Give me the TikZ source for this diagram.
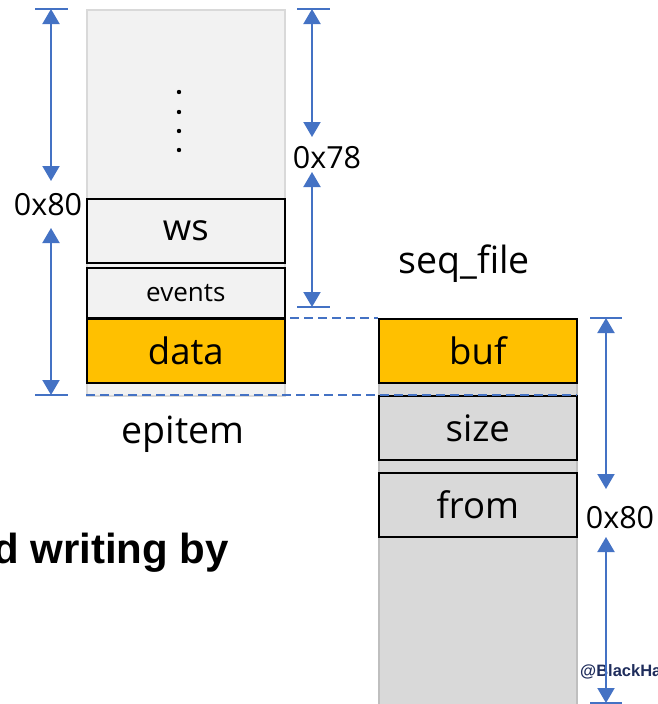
\documentclass[tikz,border=0pt]{standalone}
\usepackage{fontspec}
\setmainfont{Open Sans}
\newfontfamily\boldsans{Liberation Sans}
\usetikzlibrary{arrows.meta}
\definecolor{dimblue}{HTML}{4472C4}
\definecolor{lightcol}{HTML}{F2F2F2}
\definecolor{lightedge}{HTML}{D9D9D9}
\definecolor{midcol}{HTML}{D9D9D9}
\definecolor{midedge}{HTML}{BFBFBF}
\definecolor{gold}{HTML}{FFC000}
\definecolor{navy}{HTML}{1F2D5C}
\begin{document}
\begin{tikzpicture}[x=1pt,y=-1pt,
  colbox/.style={draw, line width=2pt, inner sep=0pt, anchor=north west, minimum width=198pt},
  fieldbox/.style={draw=black, line width=1.6pt, inner sep=0pt, anchor=north west, minimum width=198pt, minimum height=64pt, font=\fontsize{36.5}{40}\selectfont},
  dimtick/.style={draw=dimblue, line width=1.5pt},
  dimarrow/.style={draw=dimblue, line width=2pt, {Triangle[width=17pt,length=15pt]}-{Triangle[width=17pt,length=15pt]}},
  dimlabel/.style={inner sep=0pt, font=\fontsize{30.5}{34}\selectfont},
  biglabel/.style={inner sep=0pt, font=\fontsize{37.5}{40}\selectfont},
  guide/.style={draw=dimblue, line width=2pt, dash pattern=on 9pt off 5pt}]
\useasboundingbox (0,0) rectangle (658,704);
\clip (0,0) rectangle (658,704);

% epitem column
\node[colbox, draw=lightedge, fill=lightcol, minimum height=386pt] (epcol) at (86,9) {};
\node[fieldbox, fill=lightcol] (ws) at (86,198) {ws};
\node[fieldbox, fill=lightcol, minimum height=50pt, font=\fontsize{26}{28}\selectfont] (events) at (86,267) {events};
\node[fieldbox, fill=gold] (data) at (86,318) {data};
\foreach \yy [count=\i] in {92,112,131,150} \fill (179,\yy) circle (2.2pt);
\node[biglabel] (eplabel) at (183,434) {epitem};

% seq_file column
\node[colbox, draw=midedge, fill=midcol, minimum height=400pt] (seqcol) at (378,318) {};
\node[fieldbox, fill=gold] (buf) at (378,318) {buf};
\node[fieldbox, fill=midcol] (size) at (378,395) {size};
\node[fieldbox, fill=midcol] (from) at (378,472) {from};
\node[biglabel] (seqlabel) at (464,264) {seq\_file};

% guides
\coordinate (g1a) at (290,318);
\draw[guide] (g1a) -- (buf.north west);
\coordinate (g2a) at (86,395);
\coordinate (g2b) at (577,395);
\draw[guide] (g2a) -- (g2b);

% left dimension 0x80
\coordinate (lt1) at (35,9); \coordinate (lt2) at (68,9);
\coordinate (lb1) at (35,395); \coordinate (lb2) at (68,395);
\draw[dimtick] (lt1) -- (lt2);
\draw[dimtick] (lb1) -- (lb2);
\node[dimlabel] (l80) at (48,205) {0x80};
\coordinate (la1) at (51,9); \coordinate (la2) at (51,181);
\coordinate (la3) at (51,228); \coordinate (la4) at (51,395);
\draw[dimarrow] (la1) -- (la2);
\draw[dimarrow] (la3) -- (la4);

% right dimension 0x78
\coordinate (rt1) at (297,9); \coordinate (rt2) at (330,9);
\coordinate (rb1) at (297,307); \coordinate (rb2) at (330,307);
\draw[dimtick] (rt1) -- (rt2);
\draw[dimtick] (rb1) -- (rb2);
\node[dimlabel] (r78) at (327,158) {0x78};
\coordinate (ra1) at (312,9); \coordinate (ra2) at (312,137);
\coordinate (ra3) at (312,172); \coordinate (ra4) at (312,307);
\draw[dimarrow] (ra1) -- (ra2);
\draw[dimarrow] (ra3) -- (ra4);

% watermark
\node[inner sep=0pt, anchor=west, text=navy, font=\boldsans\bfseries\fontsize{16.5}{18}\selectfont] (wm) at (580,672) {@BlackHa};

% seq_file dimension 0x80
\coordinate (st1) at (590,318); \coordinate (st2) at (622,318);
\coordinate (sb1) at (590,703); \coordinate (sb2) at (622,703);
\draw[dimtick] (st1) -- (st2);
\draw[dimtick] (sb1) -- (sb2);
\node[dimlabel] (s80) at (620,518) {0x80};
\coordinate (sa1) at (606,318); \coordinate (sa2) at (606,489);
\coordinate (sa3) at (606,537); \coordinate (sa4) at (606,703);
\draw[dimarrow] (sa1) -- (sa2);
\draw[dimarrow] (sa3) -- (sa4);

% cut-off heading
\node[inner sep=0pt, anchor=east, font=\boldsans\bfseries\fontsize{42}{46}\selectfont] (head) at (229,553) {d writing by};
\end{tikzpicture}
\end{document}
